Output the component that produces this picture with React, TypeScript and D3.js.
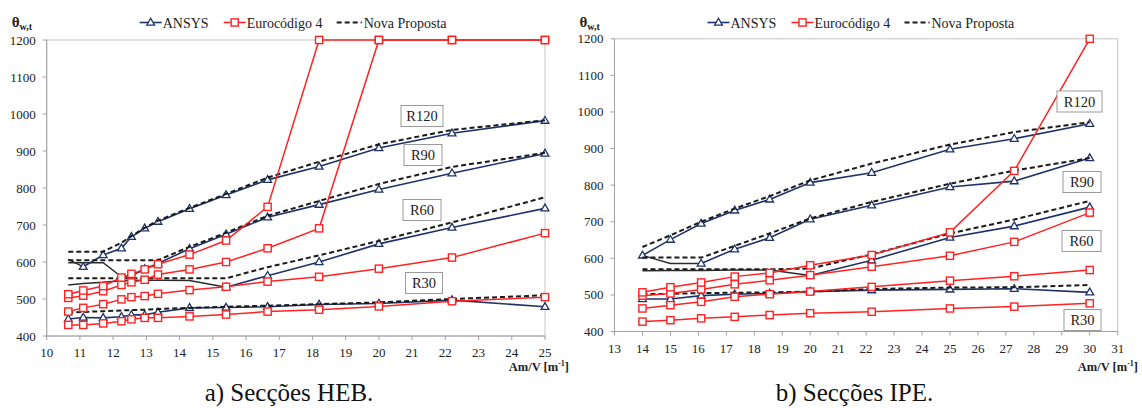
import React from "react";
import * as d3 from "d3";

// ---------- data ----------
const yTicks = [400, 500, 600, 700, 800, 900, 1000, 1100, 1200];

// a) HEB sections
const hebX = [10.65, 11.1, 11.7, 12.25, 12.55, 12.95, 13.35, 14.3, 15.4, 16.65, 18.2, 20, 22.2, 25];
const hebXTicks = [10, 11, 12, 13, 14, 15, 16, 17, 18, 19, 20, 21, 22, 23, 24, 25];
const hebAnsysR30 = [446, 450, 449, 452, 457, 457, 464, 476, 477, 479, 485, 488, 497, 479];
const hebAnsysR60 = [538, 542, 545, 549, 550, 551, 551, 550, 532, 563, 600, 649, 693, 745];
const hebAnsysR90 = [598, 598, 598, 560, 563, 581, 596, 636, 675, 721, 755, 796, 840, 893];
const hebAnsysR120 = [607, 587, 619, 637, 668, 691, 709, 744, 781, 822, 858, 908, 948, 982];
const hebEc4R30 = [430, 430, 434, 440, 445, 449, 449, 453, 458, 466, 471, 480, 494, 505];
const hebEc4R60 = [466, 476, 486, 499, 505, 508, 514, 524, 533, 547, 560, 582, 612, 678];
const hebEc4R90 = [503, 509, 521, 538, 545, 552, 566, 580, 600, 637, 691, 1200, 1200, 1200];
const hebEc4R120 = [513, 523, 535, 558, 568, 580, 594, 620, 658, 749, 1200, 1200, 1200, 1200];
const hebNovaR30 = [463, 465, 467, 469, 470, 471, 473, 476, 479, 482, 486, 491, 500, 510];
const hebNovaR60 = [556, 556, 556, 556, 556, 556, 556, 556, 556, 586, 618, 657, 707, 775];
const hebNovaR90 = [605, 605, 605, 605, 605, 605, 605, 641, 679, 725, 765, 811, 857, 895];
const hebNovaR120 = [628, 628, 628, 652, 670, 692, 712, 746, 784, 828, 871, 918, 957, 983];
// index from which the ANSYS curve shows markers (before it: plain dark line)
const hebAnsysMarkFrom = [0, 8, 4, 1];

// b) IPE sections
const ipeX = [14, 15, 16.1, 17.3, 18.55, 20, 22.2, 25, 27.3, 30];
const ipeXTicks = [13, 14, 15, 16, 17, 18, 19, 20, 21, 22, 23, 24, 25, 26, 27, 28, 29, 30, 31];
const ipeAnsysR30 = [489, 489, 498, 502, 504, 509, 513, 515, 517, 507];
const ipeAnsysR60 = [566, 567, 567, 568, 568, 553, 595, 657, 688, 740];
const ipeAnsysR90 = [608, 586, 586, 625, 656, 707, 745, 795, 811, 874];
const ipeAnsysR120 = [608, 651, 695, 731, 761, 807, 834, 898, 927, 968];
const ipeEc4R30 = [427, 431, 436, 440, 445, 450, 454, 463, 468, 477];
const ipeEc4R60 = [463, 472, 481, 495, 502, 509, 522, 539, 551, 568];
const ipeEc4R90 = [498, 504, 515, 529, 540, 554, 577, 607, 645, 725];
const ipeEc4R120 = [507, 521, 534, 550, 560, 581, 609, 671, 839, 1200];
const ipeNovaR30 = [502, 503, 505, 506, 507, 509, 516, 520, 521, 527];
const ipeNovaR60 = [570, 570, 570, 570, 570, 572, 611, 668, 706, 757];
const ipeNovaR90 = [602, 602, 602, 634, 668, 709, 754, 804, 840, 874];
const ipeNovaR120 = [631, 663, 700, 736, 770, 813, 859, 911, 945, 972];
const ipeAnsysMarkFrom = [0, 5, 2, 0];

const legendNames = ["ANSYS", "Eurocódigo 4", "Nova Proposta"];
const resistanceLabels = ["R30", "R60", "R90", "R120"];

// ---------- styles ----------
const NAVY = "#1F3369";
const DARK = "#2b2b2b";
const RED = "#FF2222";
const AXIS = "#A0A0A0";
const TXT = "#222";
const FONT = '"Liberation Serif", "DejaVu Serif", "Times New Roman", Times, serif';

type LabelBox = { name: string; cx: number; cy: number; w: number };

type PanelProps = {
  x0: number; x1: number; yTop: number; yBot: number;
  xDomain: [number, number]; xTicks: number[]; xs: number[];
  ansys: number[][]; ec4: number[][]; nova: number[][]; markFrom: number[];
  boxes: LabelBox[]; caption: string; captionX: number; titleEnd: number; titleY: number;
  tickLabelY: number;
};

const triPath = "M0,-4.2 L3.9,2.6 L-3.9,2.6 Z";

function Panel(p: PanelProps) {
  const xS = d3.scaleLinear().domain(p.xDomain).range([p.x0, p.x1]);
  const yS = d3.scaleLinear().domain([400, 1200]).range([p.yBot, p.yTop]);
  const line = d3.line<[number, number]>().x((d) => xS(d[0])).y((d) => yS(d[1]));
  const pts = (vals: number[]) => p.xs.map((x, i) => [x, vals[i]] as [number, number]);

  const legY = 22.5;
  const lx = p.x0 + 93;

  return (
    <g style={{ fontFamily: FONT }}>
      {/* plot border */}
      <rect x={p.x0} y={p.yTop} width={p.x1 - p.x0} height={p.yBot - p.yTop} fill="none" stroke="#C4C4C4" strokeWidth={1} />
      <line x1={p.x0} x2={p.x0} y1={p.yTop} y2={p.yBot} stroke={AXIS} />
      <line x1={p.x0} x2={p.x1} y1={p.yBot} y2={p.yBot} stroke={AXIS} />
      {/* y ticks */}
      {yTicks.map((t) => (
        <g key={"y" + t}>
          <line x1={p.x0 - 4} x2={p.x0} y1={yS(t)} y2={yS(t)} stroke={AXIS} />
          <text x={p.x0 - 11} y={yS(t) + 4.5} textAnchor="end" fontSize={13} fill={TXT}>{t}</text>
        </g>
      ))}
      {/* x ticks */}
      {p.xTicks.map((t) => (
        <g key={"x" + t}>
          <line x1={xS(t)} x2={xS(t)} y1={p.yBot} y2={p.yBot + 4} stroke={AXIS} />
          <text x={xS(t)} y={p.tickLabelY} textAnchor="middle" fontSize={13} fill={TXT}>{t}</text>
        </g>
      ))}
      {/* axis titles */}
      <text x={p.x0 - 35} y={27} fontSize={15} fontWeight="bold" fill={TXT}>
        θ<tspan fontSize={10} dy={3}>w,t</tspan>
      </text>
      <text x={p.titleEnd} y={p.titleY} textAnchor="end" fontSize={12.5} fontWeight="bold" fill={TXT}>
        Am/V [m<tspan fontSize={8} dy={-5}>-1</tspan><tspan dy={5}>]</tspan>
      </text>

      {/* ANSYS curves */}
      {p.ansys.map((vals, k) => {
        const all = pts(vals);
        const m = p.markFrom[k];
        return (
          <g key={"a" + k}>
            {m > 0 && <path d={line(all.slice(0, m + 1)) || ""} fill="none" stroke={DARK} strokeWidth={1.5} />}
            <path d={line(all.slice(m)) || ""} fill="none" stroke={NAVY} strokeWidth={1.6} />
            {all.slice(m).map((d, i) => (
              <path key={i} d={triPath} transform={`translate(${xS(d[0])},${yS(d[1])})`} fill="#fff" stroke={NAVY} strokeWidth={1.3} />
            ))}
          </g>
        );
      })}
      {/* Nova Proposta */}
      {p.nova.map((vals, k) => (
        <path key={"n" + k} d={line(pts(vals)) || ""} fill="none" stroke="#1a1a1a" strokeWidth={2} strokeDasharray="5,3" />
      ))}
      {/* Eurocodigo 4 */}
      {p.ec4.map((vals, k) => {
        const all = pts(vals);
        return (
          <g key={"e" + k}>
            <path d={line(all) || ""} fill="none" stroke={RED} strokeWidth={1.5} />
            {all.map((d, i) => (
              <rect key={i} x={xS(d[0]) - 3.6} y={yS(d[1]) - 3.6} width={7.2} height={7.2} fill="#fff" stroke={RED} strokeWidth={1.4} />
            ))}
          </g>
        );
      })}

      {/* resistance labels */}
      {p.boxes.map((b) => (
        <g key={b.name}>
          <rect x={b.cx - b.w / 2} y={b.cy - 10.5} width={b.w} height={21} fill="#fff" stroke="#9a9a9a" strokeWidth={1} />
          <text x={b.cx} y={b.cy + 5} textAnchor="middle" fontSize={14.5} fill={TXT}>{b.name}</text>
        </g>
      ))}

      {/* legend */}
      <g>
        <line x1={lx} x2={lx + 22} y1={legY} y2={legY} stroke={NAVY} strokeWidth={1.6} />
        <path d={triPath} transform={`translate(${lx + 11},${legY})`} fill="#fff" stroke={NAVY} strokeWidth={1.3} />
        <text x={lx + 23} y={legY + 5} fontSize={14} fill={TXT}>{legendNames[0]}</text>
        <line x1={lx + 84} x2={lx + 106} y1={legY} y2={legY} stroke={RED} strokeWidth={1.5} />
        <rect x={lx + 95 - 3.6} y={legY - 3.6} width={7.2} height={7.2} fill="#fff" stroke={RED} strokeWidth={1.4} />
        <text x={lx + 107} y={legY + 5} fontSize={14} fill={TXT}>{legendNames[1]}</text>
        <line x1={lx + 197} x2={lx + 222} y1={legY} y2={legY} stroke="#1a1a1a" strokeWidth={2} strokeDasharray="5,3" />
        <text x={lx + 224} y={legY + 5} fontSize={14} fill={TXT}>{legendNames[2]}</text>
      </g>

      {/* caption */}
      <text x={p.captionX} y={401} textAnchor="middle" fontSize={25} fill="#111">{p.caption}</text>
    </g>
  );
}

export default function App() {
  return (
    <div style={{ position: "absolute", left: 0, top: 0, width: 1142, height: 408, background: "#fff" }}>
      <svg width={1142} height={408} viewBox="0 0 1142 408">
        <rect width={1142} height={408} fill="#fff" />
        <Panel
          x0={46.7} x1={545} yTop={40} yBot={336}
          xDomain={[10, 25]} xTicks={hebXTicks} xs={hebX}
          ansys={[hebAnsysR30, hebAnsysR60, hebAnsysR90, hebAnsysR120]}
          ec4={[hebEc4R30, hebEc4R60, hebEc4R90, hebEc4R120]}
          nova={[hebNovaR30, hebNovaR60, hebNovaR90, hebNovaR120]}
          markFrom={hebAnsysMarkFrom}
          boxes={[
            { name: resistanceLabels[0], cx: 424, cy: 283, w: 37 },
            { name: resistanceLabels[1], cx: 422, cy: 210, w: 38 },
            { name: resistanceLabels[2], cx: 423, cy: 155, w: 38 },
            { name: resistanceLabels[3], cx: 422, cy: 116, w: 42 },
          ]}
          caption="a) Secções HEB." captionX={289} titleEnd={569} titleY={371} tickLabelY={357}
        />
        <Panel
          x0={614.5} x1={1117.7} yTop={38.8} yBot={331.5}
          xDomain={[13, 31]} xTicks={ipeXTicks} xs={ipeX}
          ansys={[ipeAnsysR30, ipeAnsysR60, ipeAnsysR90, ipeAnsysR120]}
          ec4={[ipeEc4R30, ipeEc4R60, ipeEc4R90, ipeEc4R120]}
          nova={[ipeNovaR30, ipeNovaR60, ipeNovaR90, ipeNovaR120]}
          markFrom={ipeAnsysMarkFrom}
          boxes={[
            { name: resistanceLabels[0], cx: 1082.5, cy: 320, w: 37 },
            { name: resistanceLabels[1], cx: 1081.5, cy: 241, w: 39 },
            { name: resistanceLabels[2], cx: 1082, cy: 182, w: 38 },
            { name: resistanceLabels[3], cx: 1079.5, cy: 101.5, w: 45 },
          ]}
          caption="b) Secções IPE." captionX={854.5} titleEnd={1138} titleY={371} tickLabelY={353}
        />
      </svg>
    </div>
  );
}
